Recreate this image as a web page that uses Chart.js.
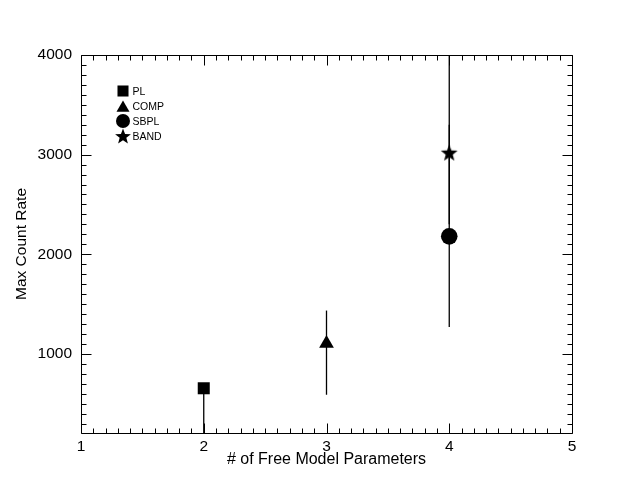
<!DOCTYPE html>
<html>
<head>
<meta charset="utf-8">
<script src="https://cdn.jsdelivr.net/npm/chart.js@4/dist/chart.umd.min.js"></script>
<style>
  html, body { margin: 0; padding: 0; background: #fff; }
  #chart { display: block; }
</style>
</head>
<body>
<canvas id="chart" width="622" height="498"></canvas>
<script>
// Values
const models = ['PL', 'COMP', 'SBPL', 'BAND'];
const freeParams = [2, 3, 4, 4];
const maxCountRate = [655, 1105, 2180, 3020];
const errLow = [150, 590, 1270, 2300];
const errHigh = [655, 1435, 3300, 4400];
const xTicks = [1, 2, 3, 4, 5];
const yTicks = [1000, 2000, 3000, 4000];

const FONT = '"Liberation Sans", Arial, Helvetica, sans-serif';

// filled five-pointed star (Chart.js 'star' is only a line glyph)
const makeStar = (outer, inner) => {
  const size = 2 * Math.ceil(outer) + 2;
  const c = document.createElement('canvas');
  c.width = size;
  c.height = size;
  const g = c.getContext('2d');
  g.translate(size / 2, size / 2 + outer * 0.095);
  g.beginPath();
  for (let i = 0; i < 10; i++) {
    const r = i % 2 ? inner : outer;
    const a = -Math.PI / 2 + i * Math.PI / 5;
    if (i === 0) g.moveTo(Math.cos(a) * r, Math.sin(a) * r);
    else g.lineTo(Math.cos(a) * r, Math.sin(a) * r);
  }
  g.closePath();
  g.fillStyle = '#000';
  g.fill();
  return c;
};

const markers = [
  { style: 'rect', radius: 8.5, legendRadius: 7.8 },
  { style: 'triangle', radius: 8.5, legendRadius: 7.5 },
  { style: 'circle', radius: 8.3, legendRadius: 7 },
  { style: makeStar(8.8, 3.7), radius: 9, legendStyle: makeStar(8.3, 3.5), legendRadius: 8 },
];

// inward ticks on all four sides plus the plot box
const frameTicks = {
  id: 'frameTicks',
  afterDatasetsDraw(chart) {
    const { ctx, chartArea: a, scales: { x, y } } = chart;
    const L = Math.round(a.left) + 0.5, R = Math.round(a.right) + 0.5;
    const T = Math.round(a.top) + 0.5, B = Math.round(a.bottom) + 0.5;
    ctx.save();
    ctx.strokeStyle = '#000';
    ctx.lineWidth = 1;
    ctx.beginPath();
    for (let i = 0; i <= Math.round((x.max - x.min) * 10); i++) {
      const px = Math.round(x.getPixelForValue(x.min + i * 0.1)) + 0.5;
      const len = i % 10 === 0 ? 10 : 5;
      ctx.moveTo(px, B); ctx.lineTo(px, B - len);
      ctx.moveTo(px, T); ctx.lineTo(px, T + len);
    }
    for (let v = Math.ceil(y.min / 100) * 100; v <= y.max; v += 100) {
      const py = Math.round(y.getPixelForValue(v)) + 0.5;
      const len = v % 1000 === 0 ? 10 : 5;
      ctx.moveTo(L, py); ctx.lineTo(L + len, py);
      ctx.moveTo(R, py); ctx.lineTo(R - len, py);
    }
    ctx.rect(L, T, R - L, B - T);
    ctx.stroke();
    ctx.restore();
  },
};

// legend block in the upper left of the plot
const markerLegend = {
  id: 'markerLegend',
  afterDraw(chart) {
    const { ctx } = chart;
    const x0 = 123, y0 = 91, step = 15;
    ctx.save();
    ctx.fillStyle = '#000';
    ctx.strokeStyle = '#000';
    ctx.font = '10.5px ' + FONT;
    ctx.textBaseline = 'middle';
    ctx.textAlign = 'left';
    models.forEach((name, i) => {
      const m = markers[i];
      const yy = y0 + i * step;
      const dy = m.style === 'triangle' ? 2 : 0;
      Chart.helpers.drawPoint(ctx, {
        pointStyle: m.legendStyle || m.style, radius: m.legendRadius, rotation: 0, borderWidth: 0,
      }, x0, yy + dy);
      ctx.fillText(name, 132.5, yy + 1);
    });
    ctx.restore();
  },
};

const pointSets = models.map((name, i) => ({
  label: name,
  data: [{ x: freeParams[i], y: maxCountRate[i] }],
  pointStyle: markers[i].style,
  pointRadius: markers[i].radius,
  pointHoverRadius: markers[i].radius,
  backgroundColor: '#000',
  borderColor: '#000',
  borderWidth: 0,
  showLine: false,
  order: 1,
}));

const errorSets = models.map((name, i) => ({
  label: name + ' error',
  data: [{ x: freeParams[i], y: errLow[i] }, { x: freeParams[i], y: errHigh[i] }],
  showLine: true,
  pointRadius: 0,
  borderColor: '#000',
  borderWidth: 1.3,
  order: 2,
}));

Chart.defaults.color = '#000';
Chart.defaults.font.family = FONT;

new Chart(document.getElementById('chart'), {
  type: 'scatter',
  data: { datasets: [...pointSets, ...errorSets] },
  options: {
    responsive: false,
    animation: false,
    layout: { padding: { left: 0, top: 55, right: 50, bottom: 0 } },
    plugins: {
      legend: { display: false },
      tooltip: { enabled: false },
    },
    scales: {
      x: {
        type: 'linear',
        min: 1,
        max: 5,
        afterBuildTicks: (s) => { s.ticks = xTicks.map(v => ({ value: v })); },
        afterFit: (s) => { s.height = 65; },
        grid: { display: false, drawTicks: false },
        border: { display: false },
        ticks: { font: { size: 15.5 }, padding: 4, callback: (v) => String(v) },
        title: {
          display: true,
          text: '# of Free Model Parameters',
          font: { size: 16 },
          padding: { top: 0, bottom: 29 },
        },
      },
      y: {
        type: 'linear',
        min: 206,
        max: 4000,
        afterBuildTicks: (s) => { s.ticks = yTicks.map(v => ({ value: v })); },
        afterFit: (s) => { s.width = 81; },
        grid: { display: false, drawTicks: false },
        border: { display: false },
        ticks: { font: { size: 15.5 }, padding: 9, callback: (v) => String(v) },
        title: {
          display: true,
          text: 'Max Count Rate',
          font: { size: 15.5 },
          padding: { top: 12, bottom: 0 },
        },
      },
    },
  },
  plugins: [frameTicks, markerLegend],
});
</script>
</body>
</html>
